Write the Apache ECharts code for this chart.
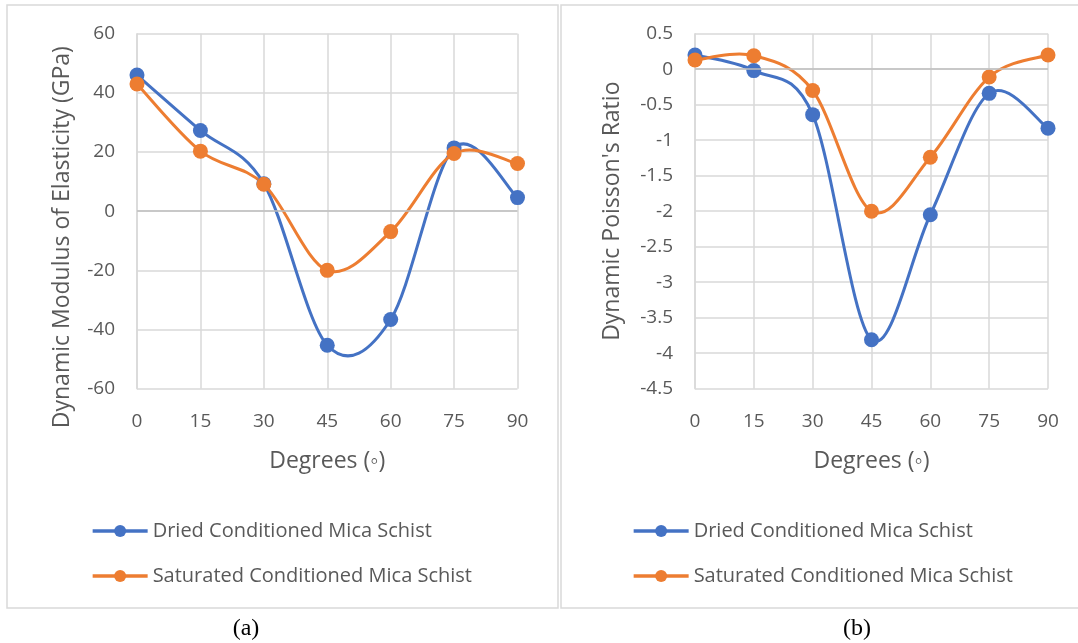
<!DOCTYPE html>
<html><head><meta charset="utf-8">
<script src="https://cdn.jsdelivr.net/npm/echarts@6/dist/echarts.min.js"></script>
<style>html,body{margin:0;padding:0;background:#fff}#c{width:1078px;height:643px}</style>
</head><body><div id="c"></div>
<script>
const degrees = [0, 15, 30, 45, 60, 75, 90];
const seriesNames = ['Dried Conditioned Mica Schist', 'Saturated Conditioned Mica Schist'];
const modulusDried = [46, 27.3, 9.3, -45.3, -36.6, 21.4, 4.6];
const modulusSaturated = [43, 20.3, 9.1, -20, -6.9, 19.5, 16.1];
const poissonDried = [0.2, -0.02, -0.64, -3.81, -2.05, -0.34, -0.83];
const poissonSaturated = [0.13, 0.19, -0.3, -2.0, -1.24, -0.11, 0.2];
const xTicks = [0, 15, 30, 45, 60, 75, 90];
const modulusTicks = [-60, -40, -20, 0, 20, 40, 60];
const poissonTicks = [-4.5, -4, -3.5, -3, -2.5, -2, -1.5, -1, -0.5, 0, 0.5];

const FONT = 'Open Sans';
const BLUE = '#4472C4', ORANGE = '#ED7D31', TXT = '#595959', GRID = '#d9d9d9';

function pairs(vals){ return degrees.map((d,i)=>[d, vals[i]]); }

function xAxis(gi){
  return {type:'value', gridIndex:gi, min:xTicks[0], max:xTicks[xTicks.length-1], interval:15,
    name:'Degrees (\u25E6)', nameLocation:'middle', nameGap:61,
    nameTextStyle:{fontFamily:FONT, fontSize:23, color:TXT},
    axisLine:{show:false}, axisTick:{show:false},
    axisLabel:{fontFamily:FONT, fontSize:19, color:TXT, margin:23},
    splitLine:{show:true, lineStyle:{color:GRID, width:1.5}}};
}
function yAxis(gi, ticks, name, gap, pad, iv){
  return {type:'value', gridIndex:gi, min:ticks[0], max:ticks[ticks.length-1], interval:iv,
    name:name, nameLocation:'middle', nameGap:gap,
    nameTextStyle:{fontFamily:FONT, fontSize:23, color:TXT, padding:pad},
    axisLine:{show:true, onZero:false, lineStyle:{color:GRID, width:1.5}}, axisTick:{show:false},
    axisLabel:{fontFamily:FONT, fontSize:19, color:TXT, margin:22},
    splitLine:{show:true, lineStyle:{color:GRID, width:1.5}}};
}
// markers (and legend entry); the line itself is drawn by the spline series below
function markers(name, vals, color, gi){
  return {name:name, type:'line', xAxisIndex:gi, yAxisIndex:gi, data:pairs(vals),
    symbol:'circle', symbolSize:15, showSymbol:true,
    lineStyle:{color:color, width:3, opacity:0}, itemStyle:{color:color}, z:4};
}
// Excel-like smoothed line: Catmull-Rom segments in pixel space via api.coord
function spline(name, vals, color, gi){
  return {name:name + ' (curve)', type:'custom', xAxisIndex:gi, yAxisIndex:gi, data:pairs(vals), z:3,
    silent:true,
    renderItem:function(params, api){
      const i = params.dataIndexInside, n = params.dataInsideLength;
      if (i >= n - 1) return null;
      const P = k => { k = Math.max(0, Math.min(n-1, k)); return api.coord([api.value(0,k), api.value(1,k)]); };
      const p0 = P(i-1), p1 = P(i), p2 = P(i+1), p3 = P(i+2);
      return {type:'bezierCurve', shape:{
          x1:p1[0], y1:p1[1], x2:p2[0], y2:p2[1],
          cpx1:p1[0]+(p2[0]-p0[0])/6, cpy1:p1[1]+(p2[1]-p0[1])/6,
          cpx2:p2[0]-(p3[0]-p1[0])/6, cpy2:p2[1]-(p3[1]-p1[1])/6},
        style:{stroke:color, lineWidth:3, fill:null, lineCap:'round'}};
    }};
}
function zeroLine(gi){
  return {type:'line', xAxisIndex:gi, yAxisIndex:gi, data:[], silent:true,
    markLine:{silent:true, symbol:['none','none'], label:{show:false},
      lineStyle:{color:'#bfbfbf', width:1.5, type:'solid'}, data:[{yAxis:0}]}, z:1};
}
function legend(left){
  return {left:left, top:521, padding:0, orient:'vertical', itemWidth:55, itemHeight:15, itemGap:25, data:seriesNames,
    lineStyle:{opacity:1, width:3.3}, textStyle:{fontFamily:FONT, fontSize:20, color:TXT}};
}

const chart = echarts.init(document.getElementById('c'), null, {renderer:'canvas'});
chart.setOption({
  animation:false,
  backgroundColor:'#fff',
  graphic:[
    {type:'rect', shape:{x:7, y:5, width:551, height:603}, style:{fill:'none', stroke:'#d9d9d9', lineWidth:1.5}, z:-1},
    {type:'rect', shape:{x:561, y:5, width:530, height:603}, style:{fill:'none', stroke:'#d9d9d9', lineWidth:1.5}, z:-1},
    {type:'text', style:{text:'(a)', fontFamily:'Liberation Serif', fontSize:24, fill:'#000', x:246, y:629, textAlign:'center', textVerticalAlign:'middle'}},
    {type:'text', style:{text:'(b)', fontFamily:'Liberation Serif', fontSize:24, fill:'#000', x:857, y:629, textAlign:'center', textVerticalAlign:'middle'}}
  ],
  grid:[
    {left:137, right:1078-517.5, top:33.7, bottom:643-388.7},
    {left:695, right:1078-1048, top:33.7, bottom:643-388.7}
  ],
  xAxis:[xAxis(0), xAxis(1)],
  yAxis:[
    yAxis(0, modulusTicks, 'Dynamic Modulus of Elasticity (GPa)', 63, [0,52,0,0], 20),
    yAxis(1, poissonTicks, "Dynamic Poisson's Ratio", 71, [0,0,0,0], 0.5)
  ],
  legend:[legend(91), legend(632)],
  series:[
    zeroLine(0), zeroLine(1),
    spline(seriesNames[0], modulusDried, BLUE, 0),
    spline(seriesNames[1], modulusSaturated, ORANGE, 0),
    spline(seriesNames[0], poissonDried, BLUE, 1),
    spline(seriesNames[1], poissonSaturated, ORANGE, 1),
    markers(seriesNames[0], modulusDried, BLUE, 0),
    markers(seriesNames[1], modulusSaturated, ORANGE, 0),
    markers(seriesNames[0], poissonDried, BLUE, 1),
    markers(seriesNames[1], poissonSaturated, ORANGE, 1)
  ]
});
</script></body></html>
